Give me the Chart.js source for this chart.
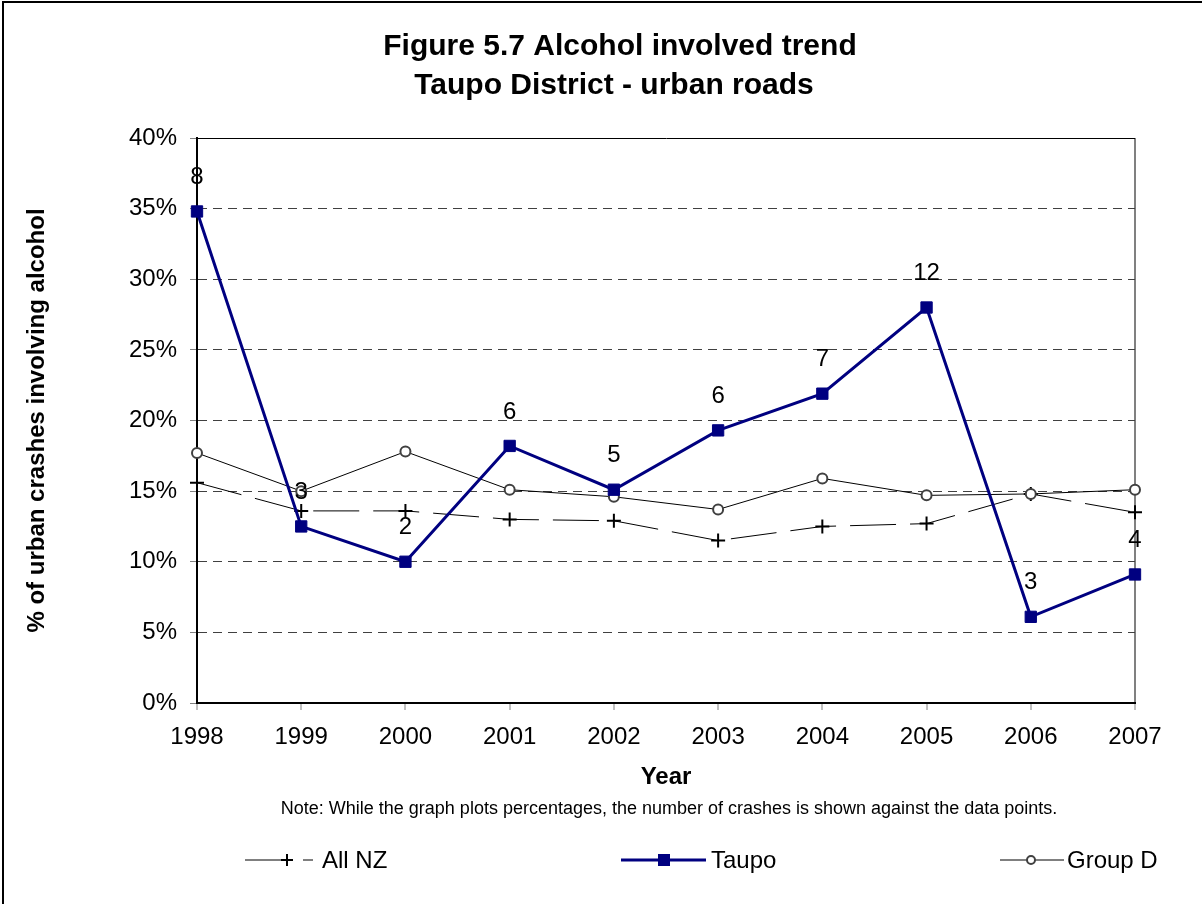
<!DOCTYPE html>
<html>
<head>
<meta charset="utf-8">
<title>Figure 5.7 Alcohol involved trend</title>
<script src="https://cdn.jsdelivr.net/npm/chart.js@4.4.1/dist/chart.umd.min.js"></script>
<style>
  html, body { margin: 0; padding: 0; background: #ffffff; }
  canvas { display: block; }
</style>
</head>
<body>
<canvas id="chart" width="1202" height="904"></canvas>
<script>
// data (percent of urban crashes involving alcohol)
var years = ['1998', '1999', '2000', '2001', '2002', '2003', '2004', '2005', '2006', '2007'];
var allNZ = [15.6, 13.6, 13.6, 13.0, 12.9, 11.5, 12.5, 12.7, 14.8, 13.5];
var taupo = [34.8, 12.5, 10.0, 18.2, 15.1, 19.3, 21.9, 28.0, 6.1, 9.1];
var groupD = [17.7, 15.0, 17.8, 15.1, 14.6, 13.7, 15.9, 14.7, 14.8, 15.1];
var taupoCrashes = [8, 3, 2, 6, 5, 6, 7, 12, 3, 4];

var titleLines = ['Figure 5.7 Alcohol involved trend', 'Taupo District - urban roads'];
var noteText = 'Note: While the graph plots percentages, the number of crashes is shown against the data points.';

var FONT = '"Liberation Sans", Arial, Helvetica, sans-serif';
var NAVY = '#000080';

// crash counts above the Taupo points
var countLabels = {
    id: 'countLabels',
    afterDatasetsDraw: function (chart) {
        var ctx = chart.ctx;
        var meta = chart.getDatasetMeta(1);
        ctx.save();
        ctx.fillStyle = '#000000';
        ctx.font = '24px ' + FONT;
        ctx.textAlign = 'center';
        ctx.textBaseline = 'middle';
        for (var i = 0; i < meta.data.length; i++) {
            var pt = meta.data[i];
            ctx.fillText(String(taupoCrashes[i]), pt.x, pt.y - 34);
        }
        ctx.restore();
    }
};

// title, note, legend and frame
var decorations = {
    id: 'decorations',
    afterDraw: function (chart) {
        var ctx = chart.ctx;
        ctx.save();

        // frame (top and left edge)
        ctx.strokeStyle = '#000000';
        ctx.lineWidth = 2;
        ctx.beginPath();
        ctx.moveTo(3, 904);
        ctx.lineTo(3, 2);
        ctx.lineTo(1202, 2);
        ctx.stroke();

        ctx.fillStyle = '#000000';
        ctx.textAlign = 'center';
        ctx.textBaseline = 'middle';
        ctx.font = 'bold 30px ' + FONT;
        ctx.fillText(titleLines[0], 620, 47);
        ctx.fillText(titleLines[1], 614, 86);

        ctx.font = '18px ' + FONT;
        ctx.fillText(noteText, 669, 809);

        // legend
        var ly = 860;
        ctx.font = '24px ' + FONT;
        ctx.textAlign = 'left';

        // All NZ: dashed black line with cross
        ctx.strokeStyle = '#000000';
        ctx.lineWidth = 1;
        ctx.beginPath();
        ctx.moveTo(245, ly); ctx.lineTo(281, ly);
        ctx.moveTo(303, ly); ctx.lineTo(313, ly);
        ctx.stroke();
        ctx.lineWidth = 2;
        ctx.beginPath();
        ctx.moveTo(281, ly); ctx.lineTo(293, ly);
        ctx.moveTo(287, ly - 6); ctx.lineTo(287, ly + 6);
        ctx.stroke();
        ctx.fillText('All NZ', 322, ly + 1);

        // Taupo: thick navy line with square
        ctx.strokeStyle = NAVY;
        ctx.lineWidth = 3;
        ctx.beginPath();
        ctx.moveTo(621, ly); ctx.lineTo(706, ly);
        ctx.stroke();
        ctx.fillStyle = NAVY;
        ctx.fillRect(658, ly - 6, 12, 12);
        ctx.fillStyle = '#000000';
        ctx.fillText('Taupo', 711, ly + 1);

        // Group D: thin line with open circle
        ctx.strokeStyle = '#000000';
        ctx.lineWidth = 1;
        ctx.beginPath();
        ctx.moveTo(1000, ly); ctx.lineTo(1064, ly);
        ctx.stroke();
        ctx.fillStyle = '#ffffff';
        ctx.strokeStyle = '#404040';
        ctx.lineWidth = 2;
        ctx.beginPath();
        ctx.arc(1031, ly, 4, 0, 2 * Math.PI);
        ctx.fill();
        ctx.stroke();
        ctx.fillStyle = '#000000';
        ctx.fillText('Group D', 1067, ly + 1);

        ctx.restore();
    }
};

var ctx = document.getElementById('chart').getContext('2d');

new Chart(ctx, {
    type: 'line',
    data: {
        labels: years,
        datasets: [
            {
                label: 'All NZ',
                data: allNZ,
                borderColor: '#000000',
                borderWidth: 1,
                borderDash: [46, 14],
                pointStyle: 'cross',
                pointRadius: 7,
                pointBorderColor: '#000000',
                pointBorderWidth: 2,
                tension: 0,
                clip: false,
                order: 2
            },
            {
                label: 'Taupo',
                data: taupo,
                borderColor: NAVY,
                borderWidth: 3,
                pointStyle: 'rect',
                pointRadius: 8,
                pointBackgroundColor: NAVY,
                pointBorderColor: NAVY,
                pointBorderWidth: 1,
                tension: 0,
                clip: false,
                order: 0
            },
            {
                label: 'Group D',
                data: groupD,
                borderColor: '#000000',
                borderWidth: 1,
                pointStyle: 'circle',
                pointRadius: 5,
                pointBackgroundColor: '#ffffff',
                pointBorderColor: '#404040',
                pointBorderWidth: 2,
                tension: 0,
                clip: false,
                order: 1
            }
        ]
    },
    options: {
        responsive: false,
        animation: false,
        devicePixelRatio: 1,
        layout: {
            padding: { left: 23, right: 67, top: 138, bottom: 112 }
        },
        plugins: {
            legend: { display: false },
            title: { display: false },
            tooltip: { enabled: false }
        },
        scales: {
            x: {
                type: 'category',
                offset: false,
                afterFit: function (scale) { scale.height = 89; },
                grid: {
                    // only the right edge of the plot is drawn
                    color: function (c) { return c.index === years.length - 1 ? '#808080' : 'rgba(0,0,0,0)'; },
                    lineWidth: 2,
                    drawOnChartArea: true,
                    drawTicks: true,
                    tickLength: 7,
                    tickColor: '#808080',
                    tickWidth: 1
                },
                border: { display: true, color: '#000000', width: 2 },
                ticks: {
                    color: '#000000',
                    padding: 13,
                    maxRotation: 0,
                    autoSkip: false,
                    font: { family: FONT, size: 24 }
                },
                title: {
                    display: true,
                    text: 'Year',
                    color: '#000000',
                    padding: 0,
                    font: { family: FONT, size: 24, weight: 'bold' }
                }
            },
            y: {
                min: 0,
                max: 40,
                afterFit: function (scale) { scale.width = 174; },
                grid: {
                    color: function (c) {
                        var v = c.tick ? c.tick.value : 0;
                        return (v === 0 || v === 40) ? '#000000' : '#404040';
                    },
                    lineWidth: 1,
                    tickLength: 7,
                    tickColor: '#808080'
                },
                border: {
                    display: true,
                    color: '#000000',
                    width: 2,
                    dash: function (c) {
                        var v = c.tick ? c.tick.value : 0;
                        return (v === 0 || v === 40) ? [] : [9, 6];
                    }
                },
                ticks: {
                    stepSize: 5,
                    color: '#000000',
                    padding: 13,
                    font: { family: FONT, size: 24 },
                    callback: function (v) { return v + '%'; }
                },
                title: {
                    display: true,
                    text: '% of urban crashes involving alcohol',
                    color: '#000000',
                    padding: 0,
                    font: { family: FONT, size: 24, weight: 'bold' }
                }
            }
        }
    },
    plugins: [countLabels, decorations]
});
</script>
</body>
</html>
